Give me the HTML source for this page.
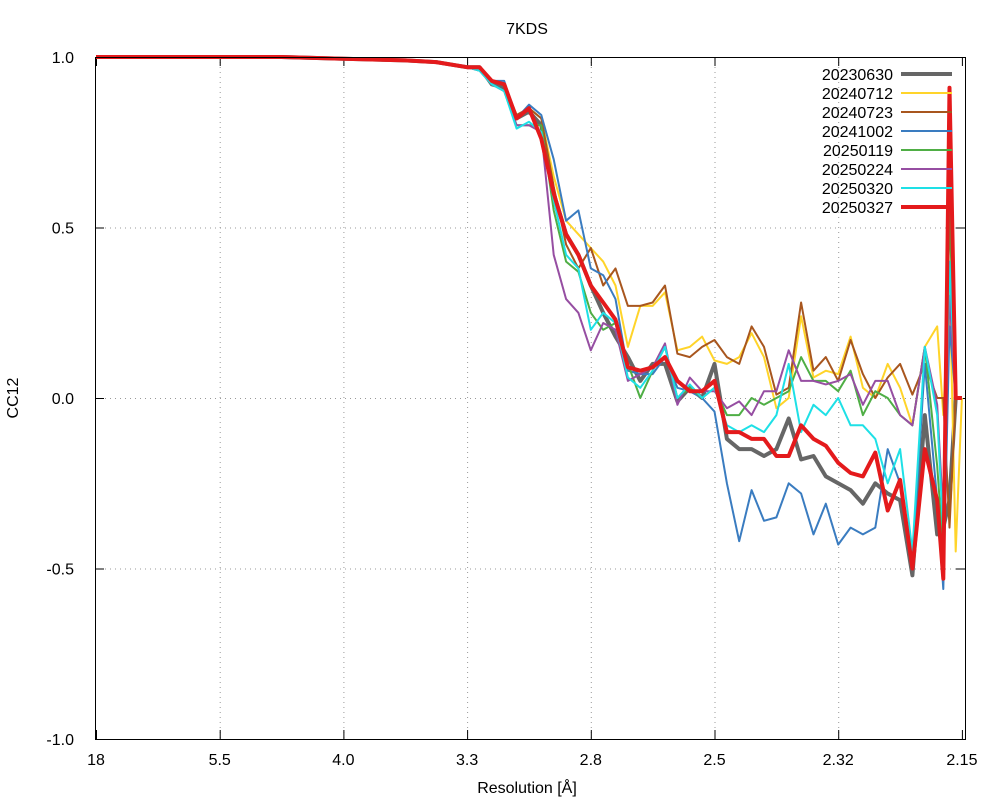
<!DOCTYPE html>
<html><head><meta charset="utf-8"><style>
html,body{margin:0;padding:0;background:#fff;}
svg{display:block;font-family:"Liberation Sans",sans-serif;}
</style></head><body>
<svg id="chart" width="1000" height="800" viewBox="0 0 1000 800">
<rect x="0" y="0" width="1000" height="800" fill="#fff"/>
<text x="527" y="34" text-anchor="middle" font-size="16">7KDS</text>
<text x="527" y="793" text-anchor="middle" font-size="16">Resolution [Å]</text>
<text transform="translate(18,398) rotate(-90)" text-anchor="middle" font-size="16">CC12</text>
<g id="grid"></g><g id="axes"></g><g id="series"></g><g id="legend"></g>
<rect x="95.5" y="57.5" width="870" height="682" fill="none" stroke="#000" stroke-width="1"/>
</svg>
<script>
const xTickLabels = ["18","5.5","4.0","3.3","2.8","2.5","2.32","2.15"];
const yTicks = [1.0,0.5,0.0,-0.5,-1.0];
const yTickLabels = ["1.0","0.5","0.0","-0.5","-1.0"];
const bins = [0,0.5,1,1.5,2,2.5,2.75,3.0,3.1,3.2,3.3,3.4,3.5,3.6,3.7,3.8,3.9,4.0,4.1,4.2,4.3,4.4,4.5,4.6,4.7,4.8,4.9,5.0,5.1,5.2,5.3,5.4,5.5,5.6,5.7,5.8,5.9,6.0,6.1,6.2,6.3,6.4,6.5,6.6,6.7,6.8,6.85,6.9,6.95,7.0];
const seriesNames = ["20230630","20240712","20240723","20241002","20250119","20250224","20250320","20250327"];
const s20230630 = [1,1,1,1,0.995,0.99,0.985,0.97,0.97,0.92,0.91,0.82,0.84,0.80,0.60,0.48,0.42,0.33,0.25,0.18,0.12,0.05,0.10,0.10,-0.01,0.03,0.0,0.10,-0.12,-0.15,-0.15,-0.17,-0.15,-0.06,-0.18,-0.17,-0.23,-0.25,-0.27,-0.31,-0.25,-0.28,-0.30,-0.52,-0.05,-0.40,-0.38,-0.30,0,0];
const s20240712 = [1,1,1,1,0.995,0.99,0.985,0.97,0.97,0.93,0.92,0.83,0.85,0.82,0.65,0.52,0.48,0.44,0.40,0.33,0.15,0.27,0.27,0.31,0.14,0.15,0.18,0.11,0.10,0.12,0.19,0.12,-0.03,0.0,0.24,0.06,0.08,0.07,0.18,0.03,0.0,0.10,0.03,-0.08,0.15,0.21,-0.05,0.35,-0.45,0];
const s20240723 = [1,1,1,1,0.995,0.99,0.985,0.97,0.97,0.93,0.92,0.83,0.85,0.82,0.62,0.45,0.38,0.44,0.33,0.38,0.27,0.27,0.28,0.33,0.13,0.12,0.15,0.17,0.12,0.10,0.21,0.15,0.01,0.03,0.28,0.08,0.12,0.05,0.17,0.07,0.0,0.06,0.10,0.01,0.10,0.0,0.0,-0.38,0,0];
const s20241002 = [1,1,1,1,0.995,0.99,0.985,0.97,0.96,0.93,0.93,0.82,0.86,0.83,0.70,0.52,0.55,0.38,0.36,0.29,0.08,0.07,0.07,0.12,0.03,0.02,0.0,-0.04,-0.25,-0.42,-0.27,-0.36,-0.35,-0.25,-0.28,-0.40,-0.31,-0.43,-0.38,-0.40,-0.38,-0.15,-0.25,-0.48,0.10,-0.30,-0.56,0.21,0,0];
const s20250119 = [1,1,1,1,0.995,0.99,0.985,0.97,0.96,0.92,0.90,0.80,0.80,0.80,0.55,0.40,0.37,0.25,0.20,0.22,0.10,0.0,0.08,0.15,0.0,0.03,0.0,0.03,-0.05,-0.05,0.0,-0.02,0.0,0.02,0.12,0.05,0.05,0.02,0.08,-0.05,0.02,0.0,-0.05,-0.08,0.15,-0.20,-0.45,0.55,0,0];
const s20250224 = [1,1,1,1,0.995,0.99,0.985,0.97,0.96,0.92,0.90,0.80,0.80,0.78,0.42,0.29,0.25,0.14,0.22,0.20,0.05,0.07,0.09,0.16,-0.02,0.06,0.02,0.02,-0.03,-0.01,-0.05,0.02,0.02,0.14,0.05,0.05,0.04,0.05,0.07,-0.02,0.05,0.05,-0.05,-0.08,0.15,-0.02,-0.35,0.30,0,0];
const s20250320 = [1,1,1,1,0.995,0.99,0.985,0.97,0.96,0.92,0.90,0.79,0.81,0.78,0.58,0.42,0.38,0.20,0.25,0.22,0.06,0.03,0.08,0.15,0.0,0.04,0.0,0.03,-0.08,-0.10,-0.08,-0.10,-0.05,0.10,-0.10,-0.02,-0.05,0.0,-0.08,-0.08,-0.12,-0.25,-0.15,-0.45,0.15,-0.05,-0.40,0.40,0,0];
const s20250327 = [1,1,1,1,0.995,0.99,0.985,0.97,0.97,0.93,0.92,0.82,0.85,0.76,0.60,0.48,0.42,0.33,0.28,0.23,0.09,0.08,0.09,0.12,0.05,0.02,0.02,0.05,-0.10,-0.10,-0.12,-0.12,-0.17,-0.17,-0.08,-0.12,-0.14,-0.19,-0.22,-0.23,-0.16,-0.33,-0.24,-0.50,-0.15,-0.30,-0.53,0.91,0,0];
const allSeries = [s20230630,s20240712,s20240723,s20241002,s20250119,s20250224,s20250320,s20250327];
const colors = ["#666666","#ffd42a","#a8561e","#3a7cc0","#4fae45","#964ea2","#1ee0e6","#e41a1c"];
const widths = [4,2,2,2,2,2,2,4];

const NS="http://www.w3.org/2000/svg";
const X0=96, XS=123.7, Y0=398, YS=341;
function xPos(u){return X0+u*XS;}
function yPos(v){return Y0-v*YS;}
function mk(tag,attrs,parent){const e=document.createElementNS(NS,tag);for(const k in attrs)e.setAttribute(k,attrs[k]);parent.appendChild(e);return e;}
const grid=document.getElementById('grid'), axes=document.getElementById('axes');
xTickLabels.forEach((lab,i)=>{
  const x=xPos(i)+0.5;
  if(i>0&&i<7){const g=mk('line',{x1:x,y1:57,x2:x,y2:739,stroke:'#999','stroke-dasharray':'1,4'},grid);
  
  }
  mk('line',{x1:x,y1:57,x2:x,y2:66,stroke:'#000'},axes);
  mk('line',{x1:x,y1:739,x2:x,y2:730,stroke:'#000'},axes);
  const t=mk('text',{x:xPos(i),y:765,'text-anchor':'middle','font-size':16},axes);
  t.textContent=lab;
  
  
});
yTicks.forEach((v,i)=>{
  const y=yPos(v)+0.5;
  if(v<1&&v>-1){const g=mk('line',{x1:95,y1:y,x2:965,y2:y,stroke:'#999','stroke-dasharray':'1,4'},grid);
  
  }
  mk('line',{x1:95,y1:y,x2:104,y2:y,stroke:'#000'},axes);
  mk('line',{x1:965,y1:y,x2:956,y2:y,stroke:'#000'},axes);
  const t=mk('text',{x:74,y:yPos(v)+6,'text-anchor':'end','font-size':16},axes);
  t.textContent=yTickLabels[i];
  
  
});
const sg=document.getElementById('series'), lg=document.getElementById('legend');
allSeries.forEach((vals,si)=>{
  const pts=vals.map((v,i)=>xPos(bins[i]).toFixed(1)+','+yPos(v).toFixed(1)).join(' ');
  const p=mk('polyline',{points:pts,fill:'none',stroke:colors[si],'stroke-width':widths[si],'stroke-linejoin':'round'},sg);
  
  
  const ly=74+si*19;
  const t=mk('text',{x:893,y:ly+6,'text-anchor':'end','font-size':16},lg);
  t.textContent=seriesNames[si];
  
  
  const l=mk('line',{x1:901,y1:ly,x2:952,y2:ly,stroke:colors[si],'stroke-width':widths[si]},lg);
  
  
});
</script>
</body></html>
